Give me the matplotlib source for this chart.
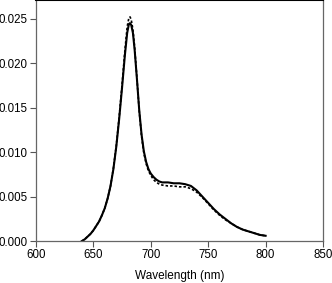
import matplotlib
matplotlib.use("Agg")
import matplotlib.pyplot as plt

plt.rcParams['font.family'] = ['Liberation Sans', 'DejaVu Sans']

wavelength = [640, 642.5, 645, 647.5, 650, 652.5, 655, 657.5, 660, 662.5, 665, 667.5, 670, 672.5, 675, 677.5, 679.5, 681, 682, 683, 684.5, 686, 688, 690, 692, 694, 696, 698, 700, 702.5, 705, 707.5, 710, 715, 720, 725, 730, 735, 740, 745, 750, 755, 760, 765, 770, 775, 780, 785, 790, 795, 800]
solid = [0.0, 0.0002, 0.0005, 0.0008, 0.0012, 0.0017, 0.0022, 0.0029, 0.0037, 0.0048, 0.0062, 0.0081, 0.0106, 0.0137, 0.0172, 0.0209, 0.0234, 0.0244, 0.0245, 0.0243, 0.0234, 0.0215, 0.0182, 0.0147, 0.0120, 0.0101, 0.0089, 0.0081, 0.0076, 0.0072, 0.0069, 0.0067, 0.0066, 0.0066, 0.0065, 0.0065, 0.0064, 0.0062, 0.0057, 0.0050, 0.0043, 0.0036, 0.0030, 0.0025, 0.0020, 0.0016, 0.0013, 0.0011, 0.0009, 0.0007, 0.0006]
dotted = [0.0, 0.0002, 0.0005, 0.0008, 0.0012, 0.0017, 0.0022, 0.0029, 0.0037, 0.0048, 0.0062, 0.0082, 0.0107, 0.0139, 0.0175, 0.0214, 0.0241, 0.0251, 0.0252, 0.0249, 0.0238, 0.0218, 0.0183, 0.0146, 0.0118, 0.0099, 0.0087, 0.0079, 0.0074, 0.0069, 0.0066, 0.0064, 0.0063, 0.0062, 0.0062, 0.0061, 0.0061, 0.0059, 0.0055, 0.0049, 0.0042, 0.0035, 0.0029, 0.0024, 0.0020, 0.0016, 0.0013, 0.0011, 0.0009, 0.0007, 0.0006]

xticks = [600, 650, 700, 750, 800, 850]
yticks = [0.000, 0.005, 0.010, 0.015, 0.020, 0.025]

fig = plt.figure(figsize=(3.32, 2.83), dpi=100)
ax = fig.add_axes([0.108, 0.148, 0.865, 0.852])
ax.plot(wavelength, solid, color='black', lw=1.5, ls='-')
ax.plot(wavelength, dotted, color='black', lw=1.2, ls=(0, (1.5, 1.2)))
ax.set_xlim(600, 850)
ax.set_ylim(0, 0.0271)
ax.set_xticks(xticks)
ax.set_xticklabels([str(t) for t in xticks])
ax.set_yticks(yticks)
ax.set_yticklabels(['%.3f' % t for t in yticks])
ax.tick_params(direction='out', length=4.5, width=0.8, color='#555555', labelsize=8.3, pad=1.5)
for s in ['left', 'bottom', 'right']:
    ax.spines[s].set_color('#666666')
    ax.spines[s].set_linewidth(0.9)
ax.spines['top'].set_color('black')
ax.spines['top'].set_linewidth(1.5)
ax.set_xlabel('Wavelength (nm)', fontsize=8.5, labelpad=6)
fig.savefig('out.png', dpi=100)
